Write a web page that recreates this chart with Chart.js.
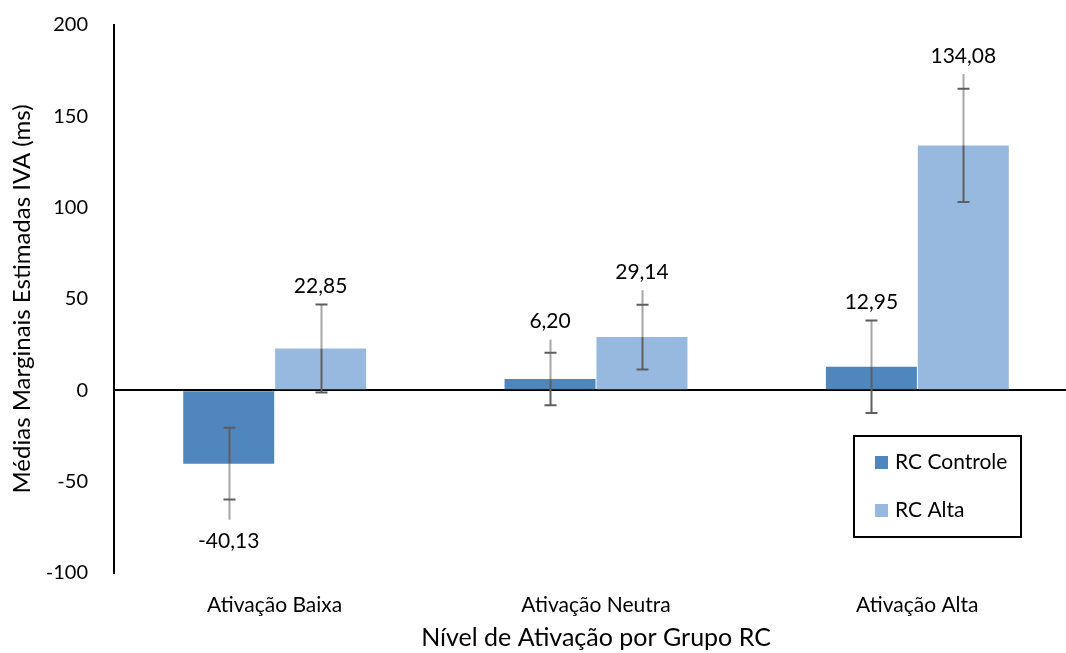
<!DOCTYPE html>
<html>
<head>
<meta charset="utf-8">
<script src="https://cdn.jsdelivr.net/npm/chart.js@4"></script>
<style>
html,body{margin:0;padding:0;background:#fff;overflow:hidden;width:1066px;height:653px;}
canvas{display:block;}
</style>
</head>
<body>
<canvas id="c" width="1100" height="653"></canvas>
<script>
const categories = ['Ativação Baixa', 'Ativação Neutra', 'Ativação Alta'];
const seriesNames = ['RC Controle', 'RC Alta'];
const controleValues = [-40.13, 6.20, 12.95];
const altaValues = [22.85, 29.14, 134.08];
// capped error (symmetric) and outer light line extent (away from zero)
const controleCapErr = [19.7, 14.4, 25.3];
const altaCapErr = [24.1, 17.7, 31.0];
const controleOuterErr = [30.7, 21.6, 25.3];
const altaOuterErr = [24.1, 25.7, 39.1];
const yTicks = [-100, -50, 0, 50, 100, 150, 200];

const colors = ['#4F86BD', '#97B9E0'];
const FONT = 'Lato';

const capErrs = [controleCapErr, altaCapErr];
const outerErrs = [controleOuterErr, altaOuterErr];
const valuesAll = [controleValues, altaValues];

const errorBarPlugin = {
  id: 'errbars',
  afterDatasetsDraw(chart) {
    const ctx = chart.ctx;
    const ys = chart.scales.y;
    ctx.save();
    chart.data.datasets.forEach((ds, i) => {
      const meta = chart.getDatasetMeta(i);
      meta.data.forEach((bar, j) => {
        const v = valuesAll[i][j];
        const dir = v >= 0 ? 1 : -1;
        const x = Math.round(bar.x) + 0.5;
        const yv = ys.getPixelForValue(v);
        const yOuter = ys.getPixelForValue(v + dir * outerErrs[i][j]);
        const yInner = ys.getPixelForValue(v - dir * capErrs[i][j]);
        const yCapOut = ys.getPixelForValue(v + dir * capErrs[i][j]);
        ctx.lineWidth = 2;
        ctx.strokeStyle = '#A6A6A6';
        ctx.beginPath(); ctx.moveTo(x, yv); ctx.lineTo(x, yOuter); ctx.stroke();
        ctx.strokeStyle = '#5E5E5E';
        ctx.beginPath(); ctx.moveTo(x, yv); ctx.lineTo(x, yInner); ctx.stroke();
        ctx.beginPath();
        ctx.moveTo(x - 6, yInner); ctx.lineTo(x + 6, yInner);
        ctx.moveTo(x - 6, yCapOut); ctx.lineTo(x + 6, yCapOut);
        ctx.stroke();
        // data label
        ctx.fillStyle = '#000';
        ctx.font = '21px ' + FONT;
        ctx.textAlign = 'center';
        ctx.textBaseline = 'middle';
        const txt = v.toFixed(2).replace('.', ',');
        const ly = dir > 0 ? yOuter - 18 : yOuter + 22;
        ctx.fillText(txt, bar.x, ly);
      });
    });
    ctx.restore();
  }
};

const legendPlugin = {
  id: 'customLegend',
  afterDraw(chart) {
    const ctx = chart.ctx;
    ctx.save();
    ctx.lineWidth = 2;
    ctx.strokeStyle = '#000';
    ctx.strokeRect(854, 436, 167, 101);
    ctx.font = '21px ' + FONT;
    ctx.textAlign = 'left';
    ctx.textBaseline = 'middle';
    chart.data.datasets.forEach((ds, i) => {
      const cy = 462 + i * 48;
      ctx.fillStyle = ds.backgroundColor;
      ctx.fillRect(875, cy - 6, 13, 13);
      ctx.fillStyle = '#000';
      ctx.fillText(ds.label, 895, cy);
    });
    ctx.restore();
  }
};

new Chart(document.getElementById('c'), {
  type: 'bar',
  data: {
    labels: categories,
    datasets: [
      { label: seriesNames[0], data: controleValues, backgroundColor: colors[0], categoryPercentage: 0.572, barPercentage: 0.99 },
      { label: seriesNames[1], data: altaValues, backgroundColor: colors[1], categoryPercentage: 0.572, barPercentage: 0.99 }
    ]
  },
  options: {
    responsive: false,
    animation: false,
    devicePixelRatio: 1,
    layout: { padding: { top: 25, right: 22, left: 0, bottom: 0 } },
    plugins: { legend: { display: false }, tooltip: { enabled: false } },
    scales: {
      y: {
        min: -100, max: 200,
        afterBuildTicks(scale) { scale.ticks = yTicks.map(v => ({ value: v })); },
        afterFit(scale) { scale.width = 114; scale.paddingTop = 0; scale.paddingBottom = 0; },
        ticks: { color: '#000', font: { family: FONT, size: 20 }, padding: 26 },
        grid: {
          drawTicks: false,
          color: ctx => (ctx.tick && ctx.tick.value === 0) ? '#000' : 'rgba(0,0,0,0)',
          lineWidth: 2
        },
        border: { display: true, color: '#000', width: 2 },
        title: {
          display: true, text: 'Médias Marginais Estimadas IVA (ms)',
          color: '#000', font: { family: FONT, size: 24 }, padding: { top: 8, bottom: 0 }
        }
      },
      x: {
        afterFit(scale) { scale.height = 80; scale.paddingLeft = 0; scale.paddingRight = 0; },
        ticks: { color: '#000', font: { family: FONT, size: 21 }, padding: 20 },
        grid: { display: false, drawTicks: false },
        border: { display: false },
        title: {
          display: true, text: 'Nível de Ativação por Grupo RC',
          color: '#000', font: { family: FONT, size: 25 }, padding: { top: 4, bottom: 0 }
        }
      }
    }
  },
  plugins: [errorBarPlugin, legendPlugin]
});
</script>
</body>
</html>
